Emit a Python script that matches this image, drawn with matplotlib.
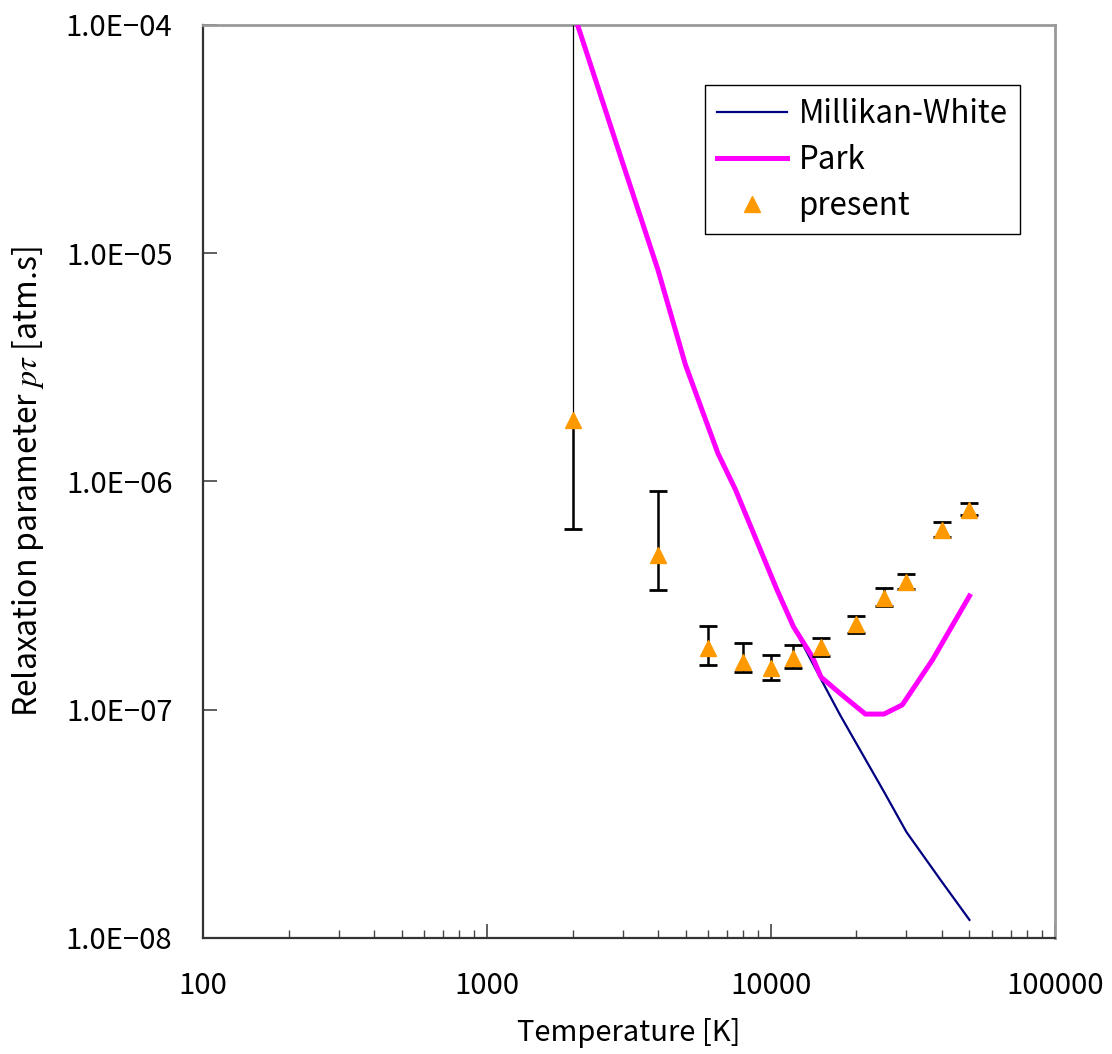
import numpy as np
import matplotlib
matplotlib.use("Agg")
import matplotlib.pyplot as plt
from matplotlib.ticker import FixedLocator, FuncFormatter, LogLocator, NullLocator

plt.rcParams['font.family'] = ['Noto Sans CJK JP', 'DejaVu Sans']
plt.rcParams['mathtext.fontset'] = 'stix'

# Millikan-White
T_mw = [2000, 3000, 4000, 5000, 6500, 7500, 10500, 12000, 15000, 17500, 20000, 25000, 30000, 40000, 50000]
pt_mw = [1.17e-4, 2.5e-5, 8.45e-6, 3.24e-6, 1.33e-6, 9.2e-7, 3.35e-7, 2.31e-7, 1.36e-7, 9.5e-8,
         7.1e-8, 4.37e-8, 2.91e-8, 1.76e-8, 1.20e-8]

# Park
T_park = [2000, 3000, 4000, 5000, 6500, 7500, 10500, 12000, 14000, 15000, 17500, 21500, 25000,
          29000, 37000, 50000]
pt_park = [1.17e-4, 2.5e-5, 8.45e-6, 3.24e-6, 1.33e-6, 9.2e-7, 3.35e-7, 2.31e-7, 1.70e-7, 1.39e-7,
           1.18e-7, 9.57e-8, 9.57e-8, 1.05e-7, 1.65e-7, 3.15e-7]

# present (with error bars)
T_pr = [2000, 4000, 6000, 8000, 10000, 12000, 15000, 20000, 25000, 30000, 40000, 50000]
pt_pr = [1.86e-6, 4.76e-7, 1.87e-7, 1.62e-7, 1.52e-7, 1.69e-7, 1.88e-7, 2.38e-7, 3.09e-7, 3.63e-7, 6.14e-7, 7.5e-7]
pt_hi = [1.0e-4, 9.1e-7, 2.33e-7, 1.96e-7, 1.74e-7, 1.92e-7, 2.06e-7, 2.58e-7, 3.41e-7, 3.94e-7, 6.65e-7, 8.05e-7]
pt_lo = [6.2e-7, 3.35e-7, 1.57e-7, 1.46e-7, 1.35e-7, 1.52e-7, 1.72e-7, 2.17e-7, 2.85e-7, 3.38e-7, 5.71e-7, 7.13e-7]

fig = plt.figure(figsize=(11.12, 10.54), dpi=100)
ax = fig.add_axes([0.1826, 0.1101, 0.7661, 0.8662])
ax.set_xscale('log')
ax.set_yscale('log')

ax.plot(T_mw, pt_mw, color='#000080', lw=1.6, label='Millikan-White', zorder=2)
ax.plot(T_park, pt_park, color='#FF00FF', lw=3.6, label='Park', zorder=3)

# error bars: first point has a thin upper bar reaching the top
T = np.array(T_pr)
y = np.array(pt_pr)
hi = np.array(pt_hi)
lo = np.array(pt_lo)
ax.errorbar(T[1:], y[1:], yerr=[y[1:] - lo[1:], hi[1:] - y[1:]], fmt='none', ecolor='black',
            elinewidth=1.8, capsize=6.5, capthick=2.0, zorder=4)
ax.vlines(T[0], lo[0], y[0], color='black', lw=1.8, zorder=4)
ax.vlines(T[0], y[0], hi[0], color='black', lw=0.9, zorder=4)
ax.plot(T[0], lo[0], marker='_', ms=13, mew=2.0, color='black', zorder=4)
ax.plot(T, y, linestyle='none', marker='^', ms=12, color='#FF9900', mec='#FF9900',
        label='present', zorder=5)

ax.set_xlim(100, 100000)
ax.set_ylim(1e-8, 1e-4)

ax.xaxis.set_major_locator(FixedLocator([100, 1000, 10000, 100000]))
ax.xaxis.set_minor_locator(LogLocator(base=10, subs=np.arange(2, 10)))
ax.xaxis.set_major_formatter(FuncFormatter(lambda v, p: '%d' % round(v)))
ax.yaxis.set_major_locator(FixedLocator([1e-8, 1e-7, 1e-6, 1e-5, 1e-4]))
ax.yaxis.set_minor_locator(NullLocator())
ax.yaxis.set_major_formatter(FuncFormatter(lambda v, p: '1.0E−%02d' % round(-np.log10(v))))

ax.tick_params(axis='both', which='major', direction='in', labelsize=21, length=10, width=1.2,
               color='#444444')
ax.tick_params(axis='x', which='minor', direction='in', length=6, width=1.0, color='#444444')
ax.tick_params(axis='y', which='major', pad=22)
ax.tick_params(axis='x', which='major', pad=24)

for s in ['left', 'bottom']:
    ax.spines[s].set_color('#333333')
    ax.spines[s].set_linewidth(1.6)
for s in ['top', 'right']:
    ax.spines[s].set_color('#999999')
    ax.spines[s].set_linewidth(2)

ax.set_xlabel('Temperature [K]', fontsize=21, labelpad=12)
ax.set_ylabel(r'Relaxation parameter $p\tau$ [atm.s]', fontsize=23, labelpad=14)

leg = ax.legend(loc='upper right', bbox_to_anchor=(0.959, 0.934), fontsize=22.5, frameon=True,
                fancybox=False, edgecolor='black', framealpha=1, handlelength=2.25,
                borderpad=0.4, labelspacing=0.45, handletextpad=0.35, borderaxespad=0)
leg.get_frame().set_linewidth(1.0)

fig.savefig('out.png', dpi=100)
